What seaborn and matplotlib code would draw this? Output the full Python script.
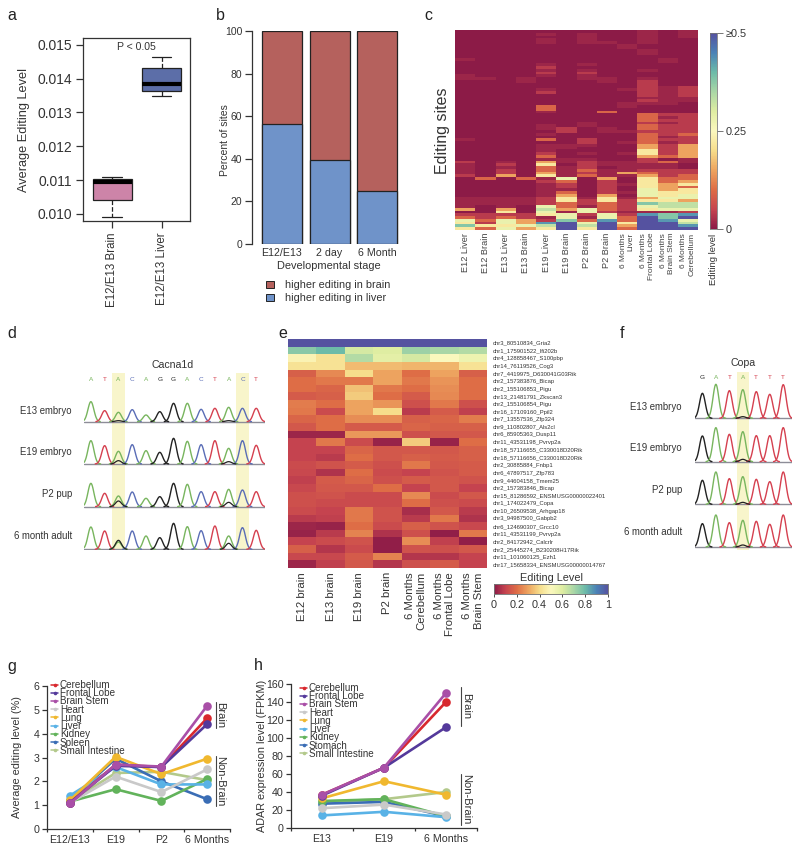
import numpy as np
import pandas as pd
import matplotlib
matplotlib.use("Agg")
import matplotlib.pyplot as plt
from matplotlib.colors import LinearSegmentedColormap
from matplotlib.lines import Line2D
from matplotlib.patches import Patch
import seaborn as sns

# ---------- data ----------
box_groups = ["E12/E13 Brain", "E12/E13 Liver"]
box_brain = [0.0099, 0.01042, 0.01095, 0.01103, 0.0111]
box_liver = [0.0135, 0.01362, 0.01385, 0.01430, 0.01465]

stack_stages = ["E12/E13", "2 day", "6 Month"]
stack_liver = [56.5, 39.5, 25.0]
stack_brain = [43.5, 60.5, 75.0]

c_columns = ["E12 Liver", "E12 Brain", "E13 Liver", "E13 Brain", "E19 Liver", "E19 Brain",
             "P2 Brain", "P2 Brain", "6 Months\nLiver", "6 Months\nFrontal Lobe",
             "6 Months\nBrain Stem", "6 Months\nCerebellum"]
# one string per site, one hex digit per sample; each digit indexes c_levels
c_levels = [0.0, 0.015, 0.04, 0.09, 0.15, 0.22, 0.28, 0.33, 0.38, 0.43, 0.5]
c_rows = [
    "000000000101", "000010100101", "000000100101", "000010100100", "000010110100",
    "000000001000", "000000001000", "000000000100", "000000000100", "000000000000",
    "100000000010", "000000000010", "000010100000", "000020000000", "000010100100",
    "000020200000", "100010100000", "110100110100", "000100010200", "000000000200",
    "000000000212", "000010001212", "000020000212", "000000000212", "000000000111",
    "000000000211", "000000001110", "000030001000", "000030000000", "000010030000",
    "000000000322", "000000000312", "000000000322", "000000100212", "000010100322",
    "000012010322", "000002011222", "000010000323", "000000000312", "100030200322",
    "000000201312", "000011100424", "000011000424", "000010000524", "000020101524",
    "000030000434", "000011100201", "201041211231", "102050211110", "101031201110",
    "102031311222", "102041214322", "204051311423", "030316040533", "000023020534",
    "000012021545", "000012020543", "000011020645", "000013021655", "000014040656",
    "111125151466", "111125252554", "111123232877", "101063132677", "404074632566",
    "005061621112", "222256262989", "323216163a8a", "636428393a96", "52649a6a5aa7",
    "85567a7a4aa9", "53645a5a3aaa",
]

e_columns = ["E12 brain", "E13 brain", "E19 brain", "P2 brain", "6 Months\nCerebellum",
             "6 Months\nFrontal Lobe", "6 Months\nBrain Stem"]
e_sites = ["chr3_80510834_Gria2", "chr1_175901522_Ifi202b", "chr4_128858467_S100pbp",
           "chr14_76119526_Cog3", "chr7_4419975_D630041G03Rik", "chr2_157383876_Bicap",
           "chr2_155106853_Pigu", "chr13_21481791_Zkscan3", "chr2_155106854_Pigu",
           "chr16_17109160_Ppil2", "chr7_13557536_Zfp324", "chr9_110802807_Als2cl",
           "chr6_85905363_Dusp11", "chr11_43531198_Pvrvp2a", "chr18_57116655_C330018D20Rik",
           "chr18_57116656_C330018D20Rik", "chr2_30885884_Fnbp1", "chr6_47897517_Zfp783",
           "chr9_44604158_Tmem25", "chr2_157383846_Bicap", "chr15_81286592_ENSMUSG00000022401",
           "chr1_174022479_Copa", "chr10_26509538_Arhgap18", "chr3_94987500_Gabpb2",
           "chr6_124690307_Grcc10", "chr11_43531199_Pvrvp2a", "chr2_84172942_Calcrlr",
           "chr2_25445274_B230208H17Rik", "chr11_101060125_Ezh1", "chr17_15658334_ENSMUSG00000014767"]
e_values = [
    [1.0, 1.0, 1.0, 1.0, 1.0, 1.0, 1.0],
    [.75, .80, .62, .60, .72, .70, .68],
    [.48, .42, .68, .58, .62, .50, .55],
    [.42, .42, .34, .34, .33, .33, .42],
    [.17, .25, .40, .30, .20, .30, .17],
    [.20, .22, .22, .30, .22, .27, .20],
    [.20, .18, .35, .22, .20, .26, .20],
    [.16, .17, .37, .20, .16, .25, .20],
    [.23, .20, .30, .27, .13, .22, .13],
    [.22, .12, .30, .40, .08, .16, .09],
    [.18, .20, .26, .26, .17, .18, .23],
    [.15, .20, .16, .16, .18, .17, .17],
    [.03, .03, .28, .28, .13, .15, .15],
    [.10, .22, .12, .02, .37, .02, .20],
    [.10, .10, .18, .15, .15, .15, .17],
    [.10, .08, .20, .15, .17, .16, .17],
    [.12, .14, .16, .13, .22, .15, .16],
    [.11, .06, .20, .12, .10, .14, .16],
    [.09, .16, .18, .13, .16, .15, .14],
    [.11, .15, .15, .20, .10, .15, .10],
    [.13, .14, .12, .12, .25, .12, .15],
    [.13, .12, .12, .12, .20, .13, .12],
    [.12, .10, .22, .14, .05, .15, .08],
    [.08, .09, .22, .14, .08, .22, .06],
    [.03, .02, .20, .12, .17, .14, .11],
    [.02, .08, .24, .06, .13, .01, .22],
    [.10, .12, .14, .01, .26, .09, .01],
    [.17, .07, .12, .01, .14, .13, .15],
    [.11, .11, .16, .24, .07, .07, .10],
    [.03, .09, .15, .07, .13, .16, .10],
]

d_bases = list("ATACAGGACTACT")
d_samples = ["E13 embryo", "E19 embryo", "P2 pup", "6 month adult"]
d_peaks = [
    [60, 33, 28, 36, 20, 30, 55, 55, 37, 40, 43, 40, 40],
    [70, 55, 38, 58, 40, 35, 77, 68, 58, 70, 47, 70, 56],
    [70, 40, 32, 44, 25, 30, 70, 67, 45, 45, 52, 50, 45],
    [67, 55, 22, 55, 40, 35, 78, 68, 56, 70, 40, 65, 57],
]
d_edited_g = [[2, 3], [2, 10], [2, 17], [2, 27]]
d_edited_g2 = [[10, 3], [10, 7], [10, 13], [10, 18]]

f_bases = list("GATATTT")
f_peaks = [
    [75, 102, 83, 86, 80, 72, 101],
    [77, 102, 82, 90, 78, 78, 102],
    [72, 97, 77, 83, 75, 68, 97],
    [70, 96, 73, 80, 77, 68, 96],
]
f_edited_g = [[3, 5], [3, 7], [3, 6], [3, 6]]

g_stages = ["E12/E13", "E19", "P2", "6 Months"]
g_cerebellum = [1.10, 2.70, 2.60, 4.65]
g_frontal = [1.10, 2.65, 2.60, 4.40]
g_brainstem = [1.07, 2.70, 2.62, 5.17]
g_heart = [1.10, 2.20, 1.55, 2.50]
g_lung = [1.20, 3.03, 2.30, 2.95]
g_liver = [1.40, 2.60, 1.87, 1.87]
g_kidney = [1.15, 1.67, 1.18, 2.10]
g_spleen = [1.20, 2.95, 2.00, 1.25]
g_intestine = [1.15, 2.35, 2.40, 2.05]

h_stages = ["E13", "E19", "6 Months"]
h_cerebellum = [37, 67, 140]
h_frontal = [36, 67, 112]
h_brainstem = [37, 67, 150]
h_heart = [22, 26, 15]
h_lung = [33, 52, 37]
h_liver = [14, 18, 12]
h_kidney = [30, 32, 13]
h_stomach = [27, 29, 13]
h_intestine = [29, 32, 40]

# ---------- style ----------
sns.set_theme(style="ticks")
plt.rcParams["font.family"] = ["Liberation Sans", "DejaVu Sans"]
plt.rcParams["axes.unicode_minus"] = False
INK = "#333333"
plt.rcParams.update({"text.color": INK, "axes.labelcolor": INK, "xtick.color": INK, "ytick.color": INK,
                     "axes.edgecolor": "#333333", "axes.linewidth": 0.9})
spectral = LinearSegmentedColormap.from_list(
    "muted_spectral",
    ["#8c1b47", "#c6444f", "#de6d46", "#eda45f", "#f6dd8b", "#fbf8be",
     "#dfeda2", "#aad7a6", "#6dbba8", "#4b82b6", "#5552a0"])
BASE_COLORS = {"A": "#78b55e", "T": "#d5404f", "C": "#5a6db6", "G": "#222222"}
TISSUE_COLORS = {"Cerebellum": "#d8282e", "Frontal Lobe": "#54399b", "Brain Stem": "#a94fa7",
                 "Heart": "#c9c9c9", "Lung": "#f0b82f", "Liver": "#59b2e6", "Kidney": "#62b35b",
                 "Spleen": "#3a6db5", "Stomach": "#3a6db5", "Small Intestine": "#b3c98b"}

W, H = 800, 852
fig = plt.figure(figsize=(W / 100, H / 100), dpi=100, facecolor="white")


def px_axes(x0, y0, x1, y1):
    return fig.add_axes([x0 / W, 1 - y1 / H, (x1 - x0) / W, (y1 - y0) / H])


def ftext(x, y, s, size, **kw):
    kw.setdefault("ha", "center")
    kw.setdefault("va", "center")
    fig.text(x / W, 1 - y / H, s, fontsize=size, **kw)


def fline(x0, y0, x1, y1, color="#444444", lw=0.8):
    fig.add_artist(Line2D([x0 / W, x1 / W], [1 - y0 / H, 1 - y1 / H], color=color, lw=lw,
                          transform=fig.transFigure))


for letter, lx, ly in [("a", 12, 15), ("b", 220, 15), ("c", 428, 15), ("d", 12, 334), ("e", 283, 334),
                       ("f", 622, 334), ("g", 12, 666), ("h", 258, 665)]:
    ftext(lx, ly, letter, 11.5, color="#222222")

# ---------- a ----------
ax = px_axes(83, 38, 190, 221)
box_df = pd.DataFrame({"group": [box_groups[0]] * 5 + [box_groups[1]] * 5, "level": box_brain + box_liver})
sns.boxplot(data=box_df, x="group", y="level", hue="group", palette=["#d978a8", "#5067b4"], legend=False,
            whis=(0, 100), width=0.8, linewidth=0.9, linecolor="#222222", ax=ax,
            medianprops={"linewidth": 3, "color": "black"}, whiskerprops={"linestyle": "--"})
ax.set_xlim(-0.594, 1.576)
ax.set_ylim(0.00979, 0.0152)
ax.set_yticks([0.010, 0.011, 0.012, 0.013, 0.014, 0.015])
ax.set_yticklabels(["0.010", "0.011", "0.012", "0.013", "0.014", "0.015"], fontsize=10)
ax.tick_params(axis="x", labelrotation=90, labelsize=8.3, length=5, width=0.9, pad=3)
ax.tick_params(axis="y", length=5, width=0.9, pad=3)
ax.set_xlabel("")
ax.set_ylabel("")
ax.text(0.5, 0.95, "P < 0.05", transform=ax.transAxes, ha="center", va="center", fontsize=7.6)
ftext(24, 130, "Average Editing Level", 9.2, rotation=90)

# ---------- b ----------
ax = px_axes(252, 31, 399, 244)
totals = list(np.add(stack_liver, stack_brain))
sns.barplot(x=stack_stages, y=totals, color="#b5615d", width=0.84, edgecolor="#222222", linewidth=0.9,
            saturation=1, ax=ax)
sns.barplot(x=stack_stages, y=stack_liver, color="#6f93c9", width=0.84, edgecolor="#222222", linewidth=0.9,
            saturation=1, ax=ax)
ax.set_xlim(-0.63, 2.46)
ax.set_ylim(0, 100)
ax.set_yticks([0, 20, 40, 60, 80, 100])
ax.tick_params(axis="y", labelsize=7.5, length=5, width=0.9, pad=2)
ax.tick_params(axis="x", labelsize=7.7, length=0, pad=3)
for side in ["top", "right", "bottom"]:
    ax.spines[side].set_visible(False)
ftext(329, 266, "Developmental stage", 7.9)
ftext(225, 140, "Percent of sites", 7.5, rotation=90)
ax.legend(handles=[Patch(facecolor="#b5615d", edgecolor="#222222", lw=0.7),
                   Patch(facecolor="#6f93c9", edgecolor="#222222", lw=0.7)],
          labels=["higher editing in brain", "higher editing in liver"],
          loc="upper left", bbox_to_anchor=(266 / W, 1 - 280 / H), bbox_transform=fig.transFigure,
          frameon=False, fontsize=7.8, handlelength=0.75, handleheight=0.65, handletextpad=1.0,
          labelspacing=0.3, borderpad=0, borderaxespad=0)

# ---------- c ----------
ax = px_axes(455, 30, 698, 230)
cax = px_axes(710, 33, 717, 229)
c_matrix = np.array([[c_levels[int(ch, 16)] for ch in row] for row in c_rows])
sns.heatmap(pd.DataFrame(c_matrix, columns=c_columns), cmap=spectral, vmin=0, vmax=0.5, ax=ax, cbar_ax=cax,
            yticklabels=False, xticklabels=True)
ax.tick_params(axis="x", length=0, pad=2)
for i, lab in enumerate(ax.get_xticklabels()):
    lab.set_rotation(90)
    lab.set_multialignment("right")
    lab.set_fontsize(6.0 if "\n" in c_columns[i] else 6.6)
    lab.set_color("#444444")
cax.set_yticks([0, 0.25, 0.5])
cax.set_yticklabels(["0", "0.25", "≥0.5"], fontsize=7.8)
cax.tick_params(axis="y", length=4, width=0.7, pad=2, color="#777777")
for sp in cax.spines.values():
    sp.set_visible(True)
    sp.set_linewidth(0.4)
    sp.set_color("#777777")
ftext(442, 131, "Editing sites", 11.5, rotation=90)
ftext(714, 259, "Editing level", 6.8, rotation=90)

# ---------- d, f ----------


def chromatogram(rect, bases, peaks, extra, xlim, baselines, letter_y, bands, title, title_y,
                 samples, label_x, label_ys):
    ax = px_axes(*rect)
    ax.set_xlim(*xlim)
    ax.set_ylim(0, rect[3] * 3 - rect[1] * 3)
    ax.axis("off")
    for b0, b1 in bands:
        ax.axvspan(b0, b1, color="#f8f5cb", lw=0, zorder=0)
    grid = np.linspace(xlim[0], xlim[1], 500)
    for r, row in enumerate(peaks):
        base = baselines[r]
        ax.plot(grid, np.full_like(grid, base), color="#8d8d98", lw=1.0, zorder=1)
        for i, (letter, height) in enumerate(zip(bases, row)):
            curve = height * np.exp(-0.5 * ((grid - i) / 0.215) ** 2)
            keep = curve > 0.3
            ax.plot(grid[keep], base + curve[keep], color=BASE_COLORS[letter], lw=1.0, zorder=2)
        for series in extra:
            i, height = series[r]
            curve = height * np.exp(-0.5 * ((grid - i) / 0.215) ** 2)
            keep = curve > 0.3
            ax.plot(grid[keep], base + curve[keep], color="#222222", lw=0.9, zorder=3)
    for i, letter in enumerate(bases):
        ax.text(i, letter_y, letter, color=BASE_COLORS[letter], fontsize=4.6, ha="center", va="center")
    ftext(title[0], title_y, title[1], 7.6)
    for s, y in zip(samples, label_ys):
        ftext(label_x, y, s, 6.9, ha="right")


chromatogram((84, 373.3, 264.5, 550), d_bases, d_peaks, [d_edited_g, d_edited_g2], (-0.5, 12.6),
             [385, 258, 130, 2], 512, [(1.56, 2.44), (10.56, 11.44)], (173, "Cacna1d"), 365,
             d_samples, 72, [411, 452, 494, 536])
chromatogram((695, 371.7, 792, 550), f_bases, f_peaks, [f_edited_g], (-0.55, 6.65),
             [395, 265, 137, 9], 518, [(2.55, 3.47)], (743, "Copa"), 363,
             d_samples, 682, [407, 448, 490, 532])

# ---------- e ----------
ax = px_axes(288, 339, 487, 568)
cax = px_axes(494, 584, 608, 594)
sns.heatmap(pd.DataFrame(e_values, columns=e_columns, index=e_sites), cmap=spectral, vmin=0, vmax=1, ax=ax,
            cbar_ax=cax, cbar_kws={"orientation": "horizontal"}, xticklabels=True, yticklabels=True)
ax.yaxis.tick_right()
ax.tick_params(axis="y", length=0, pad=4, labelsize=4.25, labelrotation=0)
ax.tick_params(axis="x", length=0, pad=3, labelsize=8.2)
for lab in ax.get_xticklabels():
    lab.set_rotation(90)
    lab.set_multialignment("right")
cax.set_xticks([0, 0.2, 0.4, 0.6, 0.8, 1])
cax.set_xticklabels(["0", "0.2", "0.4", "0.6", "0.8", "1"], fontsize=7.8)
cax.tick_params(axis="x", length=2, width=0.6, pad=2)
for sp in cax.spines.values():
    sp.set_visible(True)
    sp.set_linewidth(0.5)
    sp.set_color("#777777")
ftext(551, 578, "Editing Level", 7.8)


# ---------- g, h ----------
def tissue_lines(ax, stages, series, draw_order, legend_order, legend_xy):
    table = pd.DataFrame([{"pos": i, "tissue": name, "value": v}
                          for name, vals in series.items() for i, v in enumerate(vals)])
    sns.lineplot(data=table, x="pos", y="value", hue="tissue", hue_order=draw_order, palette=TISSUE_COLORS,
                 marker="o", markersize=6.2, markeredgewidth=0, linewidth=1.9, legend=False, estimator=None,
                 ax=ax)
    n = len(stages)
    ax.set_xlim(-0.5, n - 0.5)
    ax.set_xticks(np.arange(n + 1) - 0.5)
    ax.set_xticklabels([])
    ax.set_xticks(np.arange(n), minor=True)
    ax.set_xticklabels(stages, minor=True, fontsize=7.7)
    ax.tick_params(axis="x", which="major", length=2, width=0.9)
    ax.tick_params(axis="x", which="minor", length=0, pad=4)
    ax.tick_params(axis="y", length=3.5, width=0.9, pad=2, labelsize=7.7)
    ax.set_xlabel("")
    ax.set_ylabel("")
    for side in ["top", "right"]:
        ax.spines[side].set_visible(False)
    handles = [Line2D([], [], color=TISSUE_COLORS[t], lw=1.1, marker="o", ms=2.6, mew=0) for t in legend_order]
    ax.legend(handles, legend_order, loc="upper left",
              bbox_to_anchor=(legend_xy[0] / W, 1 - legend_xy[1] / H), bbox_transform=fig.transFigure,
              frameon=False, fontsize=7.1, handlelength=0.75, handletextpad=0.15, labelspacing=-0.18,
              borderpad=0, borderaxespad=0)


ax = px_axes(47, 686, 230, 829)
g_series = {"Cerebellum": g_cerebellum, "Frontal Lobe": g_frontal, "Brain Stem": g_brainstem, "Heart": g_heart,
            "Lung": g_lung, "Liver": g_liver, "Kidney": g_kidney, "Spleen": g_spleen,
            "Small Intestine": g_intestine}
tissue_lines(ax, g_stages, g_series,
             ["Small Intestine", "Spleen", "Kidney", "Liver", "Heart", "Lung", "Cerebellum", "Frontal Lobe", "Brain Stem"],
             list(g_series), (51, 680))
ax.set_ylim(0, 6)
ax.set_yticks(range(7))
ftext(17, 757, "Average editing level (%)", 7.8, rotation=90)
fline(216, 702, 216, 728)
ftext(220.5, 715, "Brain", 8.0, rotation=270)
fline(216, 756, 216, 806)
ftext(220.5, 781, "Non-Brain", 8.0, rotation=270)

ax = px_axes(291, 684, 477, 828)
h_series = {"Cerebellum": h_cerebellum, "Frontal Lobe": h_frontal, "Brain Stem": h_brainstem, "Heart": h_heart,
            "Lung": h_lung, "Liver": h_liver, "Kidney": h_kidney, "Stomach": h_stomach,
            "Small Intestine": h_intestine}
tissue_lines(ax, h_stages, h_series,
             ["Small Intestine", "Stomach", "Kidney", "Liver", "Heart", "Lung", "Cerebellum", "Frontal Lobe", "Brain Stem"],
             list(h_series), (300, 683))
ax.set_ylim(0, 160)
ax.set_yticks(range(0, 161, 20))
ftext(262, 756, "ADAR expression level (FPKM)", 7.8, rotation=90)
fline(461, 687, 461, 726)
ftext(466.5, 706, "Brain", 8.0, rotation=270)
fline(461, 774, 461, 825)
ftext(466.5, 799, "Non-Brain", 8.0, rotation=270)

fig.savefig("out.png", dpi=100, facecolor="white")
